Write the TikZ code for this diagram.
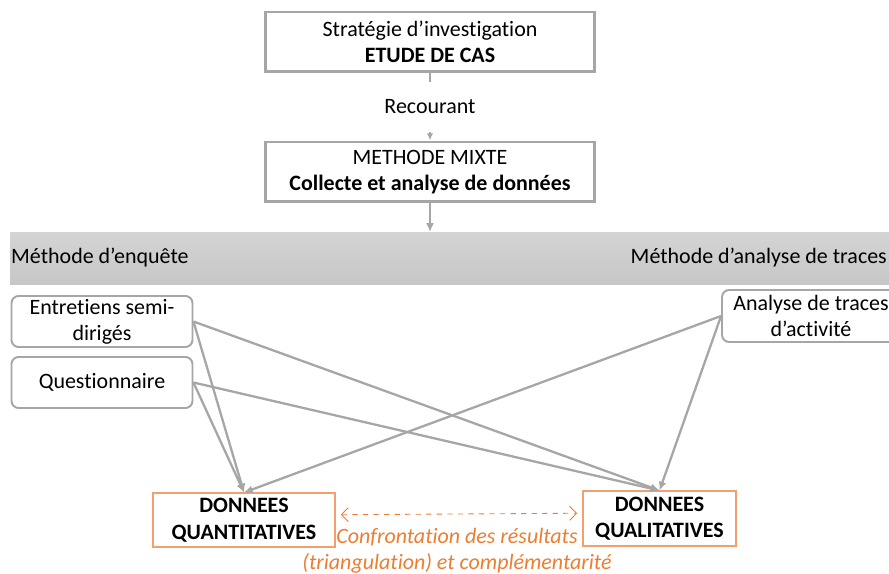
\documentclass[tikz,border=0pt]{standalone}
\usepackage{fontspec}
\setmainfont{Carlito}[Ligatures=NoCommon]
\usetikzlibrary{arrows.meta}

\definecolor{lineGray}{RGB}{166,166,166}
\definecolor{officeOrange}{RGB}{237,125,49}
\definecolor{boxOrange}{RGB}{244,160,110}

\tikzset{
  stepbox/.style={draw=lineGray,line width=1.7pt,fill=white,minimum width=6.6cm,minimum height=1.2cm,align=center,inner sep=0pt},
  toolbox/.style={draw=lineGray,line width=1.1pt,rounded corners=4pt,fill=white,minimum width=3.62cm,align=center,inner sep=0pt},
  databox/.style={draw=boxOrange,line width=0.6pt,fill=white,align=center,font=\fontsize{12.5}{15}\selectfont\bfseries,inner sep=0pt},
  link/.style={draw=lineGray,line width=1.3pt,-{Latex[length=5pt,width=4.5pt]}}
}

\begin{document}
\begin{tikzpicture}[x=0.02cm,y=-0.02cm,font=\fontsize{12.5}{14.8}\selectfont]
  %\draw[step=1cm,gray,very thin] (0,0) grid (17.78,-11.48);
  \clip (0,0) rectangle (889,574);
  \useasboundingbox (0,0) rectangle (889,574);

  %STRATEGIE
  \node[stepbox] (strat) at (430,42) {Stratégie d’investigation\\\textbf{ETUDE DE CAS}};
  \node[stepbox] (mixte) at (430,172) {METHODE MIXTE\\\textbf{Collecte et analyse de données}};
  \draw[link,line width=1.4pt,-{Latex[length=4pt,width=3.5pt]}] (strat) -- node[fill=white,inner sep=2pt,minimum height=1cm] (rec) {Recourant} (mixte);

  %BANDE
  \shade[top color=black!17,bottom color=black!22] (10,233) rectangle (889,284);
  \node[anchor=west] (enq) at (5,258) {Méthode d’enquête};
  \node[anchor=east] (tra) at (893,258) {Méthode d’analyse de traces};
  \coordinate (band) at (430,232);
  \draw[link,line width=1.4pt] (mixte) -- (band);

  %OUTILS
  \node[toolbox,minimum height=1.02cm] (ent) at (102,321.5) {Entretiens semi-\\dirigés};
  \node[toolbox,minimum height=1.02cm] (que) at (102,382.5) {Questionnaire};
  \node[toolbox,minimum width=3.56cm,minimum height=1.04cm] (ana) at (811,316) {Analyse de traces\\d’activité};

  %DONNEES
  \node[databox,minimum width=3.64cm,minimum height=1.08cm] (quant) at (244,520) {DONNEES\\QUANTITATIVES};
  \node[databox,minimum width=3.06cm,minimum height=1.1cm] (qual) at (659.5,518.5) {DONNEES\\QUALITATIVES};

  \draw[link] (ent.east) -- (quant.north);
  \draw[link] (ent.east) -- (qual.north);
  \draw[link] (que.east) -- (quant.north);
  \draw[link] (que.east) -- (qual.north);
  \draw[link] (ana.west) -- (quant.north);
  \draw[link] (ana.west) -- (qual.north);

  %CONFRONTATION
  \draw[officeOrange,dashed,line width=0.5pt,{Straight Barb[length=4pt,width=8pt]}-{Straight Barb[length=4pt,width=8pt]}] ([xshift=3pt,yshift=3pt]quant.east) -- ([xshift=-3pt,yshift=3pt]qual.west);
  \node[text=officeOrange,font=\fontsize{12.5}{14.6}\selectfont\itshape,align=center] (conf) at (457,550.5) {Confrontation des résultats\\(triangulation) et complémentarité};

\end{tikzpicture}
\end{document}
